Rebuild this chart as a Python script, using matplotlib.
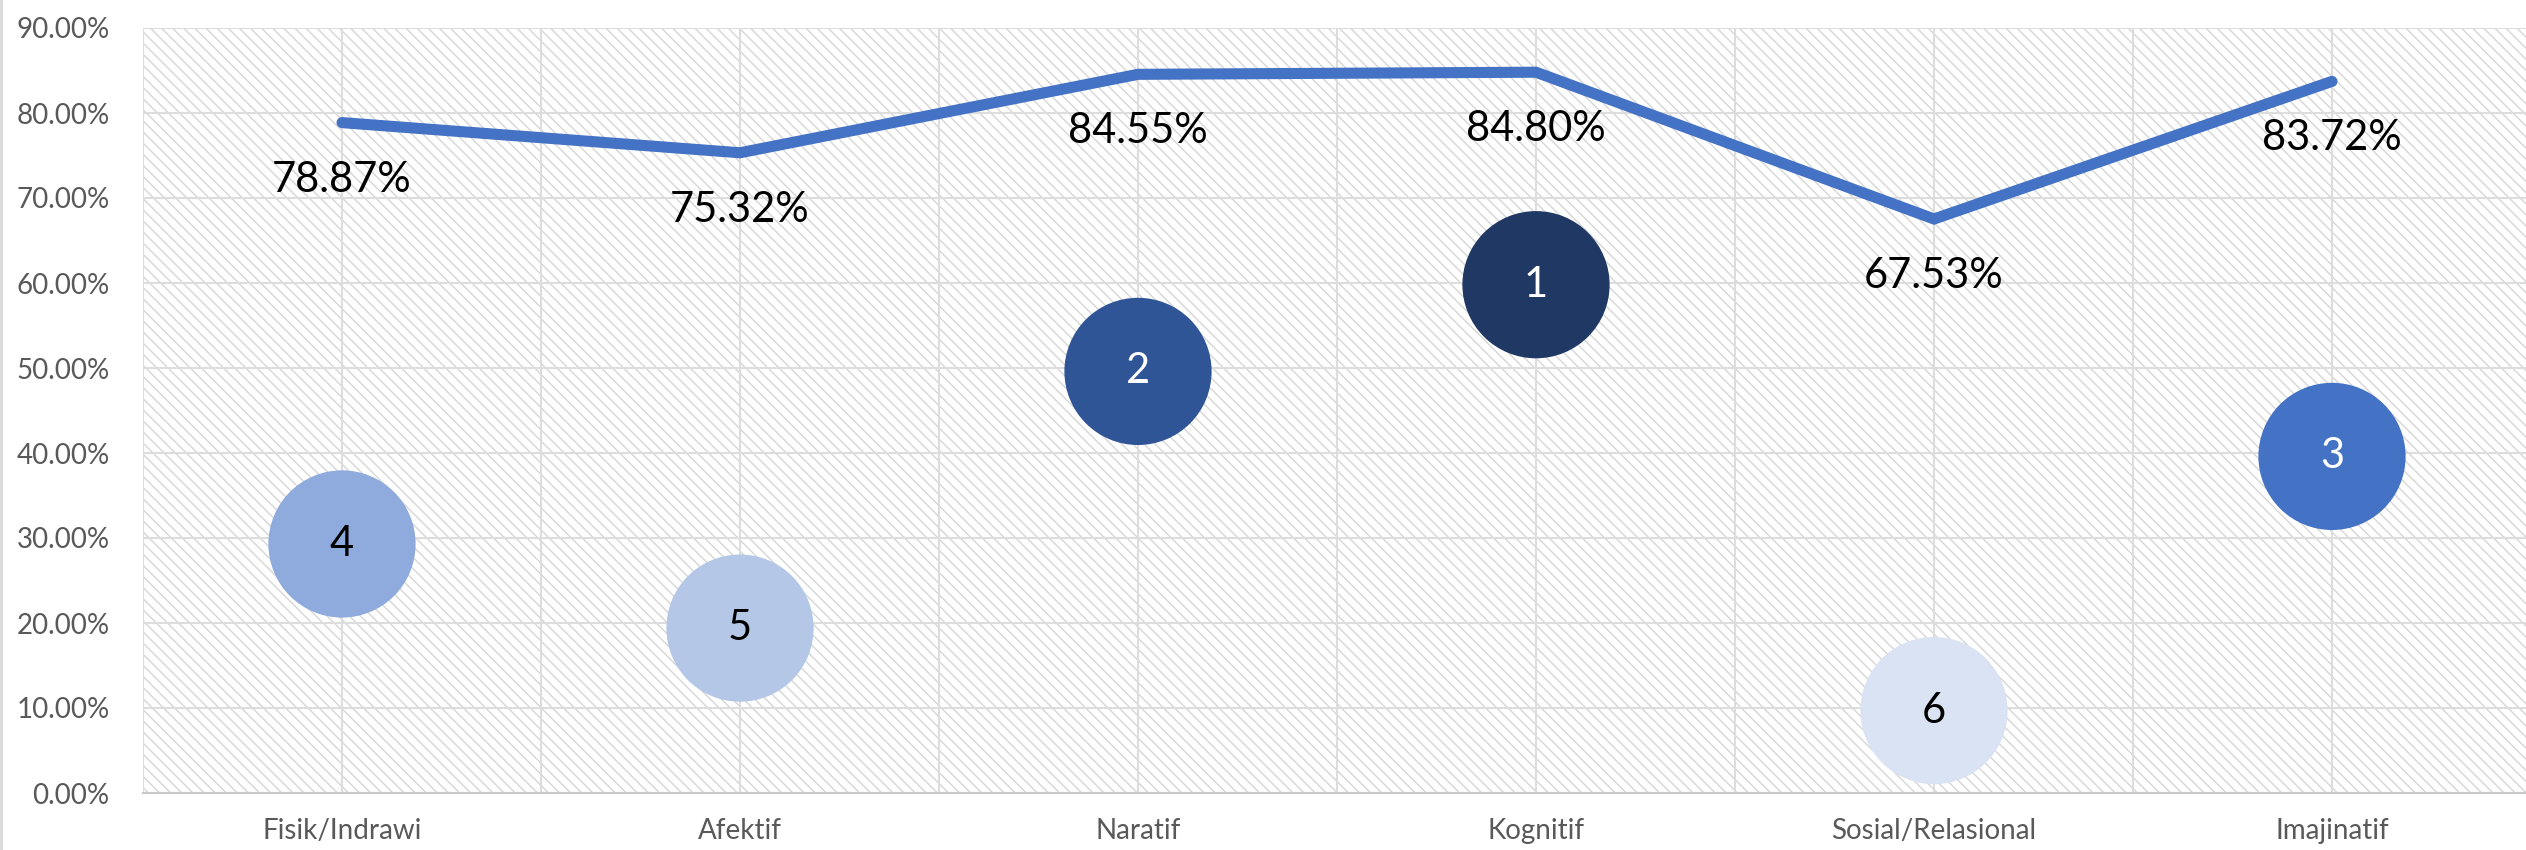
import matplotlib
matplotlib.use("Agg")
import matplotlib.pyplot as plt
from matplotlib.patches import Rectangle
from matplotlib.lines import Line2D
from matplotlib.ticker import PercentFormatter, MultipleLocator

# data
categories = ["Fisik/Indrawi", "Afektif", "Naratif", "Kognitif", "Sosial/Relasional", "Imajinatif"]
scores = [78.87, 75.32, 84.55, 84.80, 67.53, 83.72]
ranks = [4, 5, 2, 1, 6, 3]
rank_y = [29.3, 19.4, 49.6, 59.8, 9.7, 39.6]

rank_colors = {1: "#203864", 2: "#2F5597", 3: "#4472C4", 4: "#8FAADC", 5: "#B4C7E7", 6: "#DAE3F3"}
rank_text = {1: "white", 2: "white", 3: "white", 4: "black", 5: "black", 6: "black"}

plt.rcParams["font.family"] = ["Lato", "DejaVu Sans"]
plt.rcParams["hatch.linewidth"] = 1.0

W, H = 2526, 850
fig = plt.figure(figsize=(W / 100, H / 100), dpi=100)
left, right, top, bottom = 143, W, 28, 793
ax = fig.add_axes([left / W, 1 - bottom / H, (right - left) / W, (bottom - top) / H])

x = list(range(1, len(categories) + 1))
step = 398  # pixels per category
ax.set_xlim(0.5, 0.5 + (right - left) / step)
ax.set_ylim(0, 90)

# hatched plot background
ax.add_patch(Rectangle((0, 0), 1, 1, transform=ax.transAxes, facecolor="white",
                       edgecolor="#D6D6D6", hatch="\\\\\\", linewidth=0, zorder=0))

ax.plot(x, scores, color="#4472C4", lw=8, solid_capstyle="round", solid_joinstyle="miter", zorder=3)
for xi, v in zip(x, scores):
    ax.annotate(f"{v:.2f}%", (xi, v), xytext=(0, -41), textcoords="offset points",
                ha="center", va="center", fontsize=30, color="black", zorder=5)

ax.scatter(x, rank_y, s=106 ** 2, c=[rank_colors[r] for r in ranks], linewidths=0, zorder=2)
for xi, yi, r in zip(x, rank_y, ranks):
    ax.text(xi, yi, str(r), ha="center", va="center", fontsize=30, color=rank_text[r], zorder=4)

ax.set_xticks(x)
ax.set_xticklabels(categories)
ax.xaxis.set_minor_locator(MultipleLocator(0.5))
ax.yaxis.set_major_locator(MultipleLocator(10))
ax.yaxis.set_major_formatter(PercentFormatter(xmax=100, decimals=2))
ax.tick_params(axis="both", which="both", length=0, labelsize=20, labelcolor="#595959")
ax.tick_params(axis="y", pad=24)
ax.tick_params(axis="x", pad=18)

ax.set_axisbelow(True)
ax.grid(axis="y", which="major", color="#DDDDDD", lw=1.5)
ax.grid(axis="x", which="both", color="#DDDDDD", lw=1.5)
for side in ["top", "right", "left"]:
    ax.spines[side].set_visible(False)
ax.spines["bottom"].set_color("#C8C8C8")
ax.spines["bottom"].set_linewidth(1.5)

fig.add_artist(Line2D([1 / W, 1 / W], [0, 1], transform=fig.transFigure, color="#D9D9D9", lw=2))

fig.savefig("out.png", dpi=100)
